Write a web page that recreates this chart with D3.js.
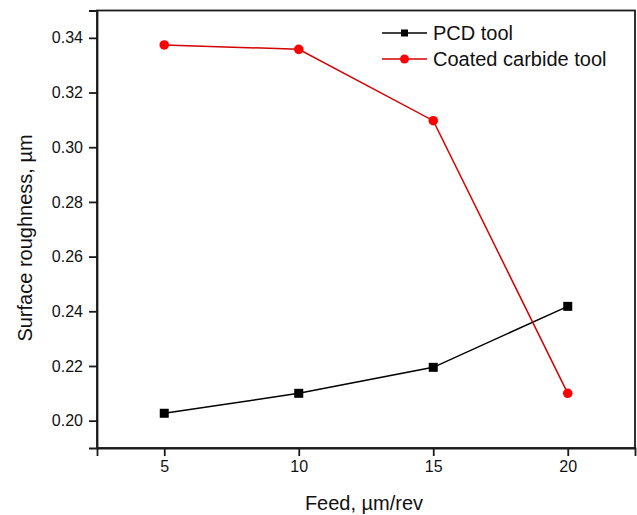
<!DOCTYPE html>
<html>
<head>
<meta charset="utf-8">
<script src="https://cdn.jsdelivr.net/npm/d3@7"></script>
<style>
  html, body { margin: 0; padding: 0; background: #fff; }
  svg { display: block; font-family: "Liberation Sans", Arial, sans-serif; }
</style>
</head>
<body>
<svg id="chart" width="637" height="515"></svg>
<script>
// Feed rates (µm/rev) and measured surface roughness (µm)
const feeds = [5, 10, 15, 20];
const pcdRoughness = [0.2027, 0.2100, 0.2195, 0.2418];
const carbideRoughness = [0.3374, 0.3358, 0.3097, 0.2100];
const xTicks = [5, 10, 15, 20];
const yTicks = [0.20, 0.22, 0.24, 0.26, 0.28, 0.30, 0.32, 0.34];
const seriesNames = ["PCD tool", "Coated carbide tool"];

const svg = d3.select("#chart");
const margin = { left: 97, top: 10.5, right: 2, bottom: 67 };
const W = 637, H = 515;

const x = d3.scaleLinear().domain([2.5, 22.5]).range([margin.left, W - margin.right]);
const y = d3.scaleLinear().domain([0.19, 0.35]).range([H - margin.bottom, margin.top]);

const axisColor = "#1a1a1a";

// Frame
svg.append("rect")
  .attr("x", x(2.5)).attr("y", y(0.35))
  .attr("width", x(22.5) - x(2.5)).attr("height", y(0.19) - y(0.35))
  .attr("fill", "none").attr("stroke", axisColor).attr("stroke-width", 1.8);

// Bottom axis
const xAxis = svg.append("g")
  .attr("transform", `translate(0,${y(0.19)})`)
  .call(d3.axisBottom(x).tickValues(xTicks).tickSize(8).tickPadding(5).tickFormat(d3.format("d")));
xAxis.select(".domain").attr("stroke", axisColor).attr("stroke-width", 1.8);
xAxis.selectAll(".tick line").attr("stroke", axisColor).attr("stroke-width", 1.8);
xAxis.selectAll(".tick text").attr("fill", "#111").style("font-size", "16px")
  .style("font-family", "'Liberation Sans', Arial, sans-serif");

// Left axis
const yAxis = svg.append("g")
  .attr("transform", `translate(${x(2.5)},0)`)
  .call(d3.axisLeft(y).tickValues(yTicks).tickSize(8).tickPadding(6).tickFormat(d3.format(".2f")));
yAxis.select(".domain").attr("stroke", axisColor).attr("stroke-width", 1.8);
yAxis.selectAll(".tick line").attr("stroke", axisColor).attr("stroke-width", 1.8);
yAxis.selectAll(".tick text").attr("fill", "#111").style("font-size", "16px")
  .style("font-family", "'Liberation Sans', Arial, sans-serif");

// Axis titles
svg.append("text")
  .attr("x", 364).attr("y", 510)
  .attr("text-anchor", "middle")
  .style("font-size", "20px").attr("fill", "#111")
  .text("Feed, µm/rev");

svg.append("text")
  .attr("transform", "translate(32,238) rotate(-90)")
  .attr("text-anchor", "middle")
  .style("font-size", "20px").attr("fill", "#111")
  .text("Surface roughness, µm");

const line = d3.line().x(d => x(d[0])).y(d => y(d[1]));

const pcd = feeds.map((f, i) => [f, pcdRoughness[i]]);
const carbide = feeds.map((f, i) => [f, carbideRoughness[i]]);

// PCD series
svg.append("path").datum(pcd).attr("d", line)
  .attr("fill", "none").attr("stroke", "#000").attr("stroke-width", 1.5);
svg.selectAll(".sq").data(pcd).enter().append("rect")
  .attr("x", d => x(d[0]) - 4.5).attr("y", d => y(d[1]) - 4.5)
  .attr("width", 9).attr("height", 9).attr("fill", "#000");

// Coated carbide series
svg.append("path").datum(carbide).attr("d", line)
  .attr("fill", "none").attr("stroke", "#d40000").attr("stroke-width", 1.5);
svg.selectAll(".dot").data(carbide).enter().append("circle")
  .attr("cx", d => x(d[0])).attr("cy", d => y(d[1]))
  .attr("r", 4.8).attr("fill", "#ff0000");

// Legend
const legend = svg.append("g");
const rows = [
  { name: seriesNames[0], color: "#000", marker: "square", cy: 33 },
  { name: seriesNames[1], color: "#d40000", marker: "circle", cy: 59 }
];
rows.forEach(r => {
  legend.append("line")
    .attr("x1", 382).attr("x2", 427).attr("y1", r.cy).attr("y2", r.cy)
    .attr("stroke", r.color).attr("stroke-width", 1.5);
  if (r.marker === "square") {
    legend.append("rect").attr("x", 404.5 - 3.5).attr("y", r.cy - 3.5)
      .attr("width", 7).attr("height", 7).attr("fill", "#000");
  } else {
    legend.append("circle").attr("cx", 404.5).attr("cy", r.cy).attr("r", 4.5).attr("fill", "#ff0000");
  }
  legend.append("text")
    .attr("x", 433).attr("y", r.cy + 7)
    .style("font-size", "20px").attr("fill", "#111")
    .text(r.name);
});
</script>
</body>
</html>
